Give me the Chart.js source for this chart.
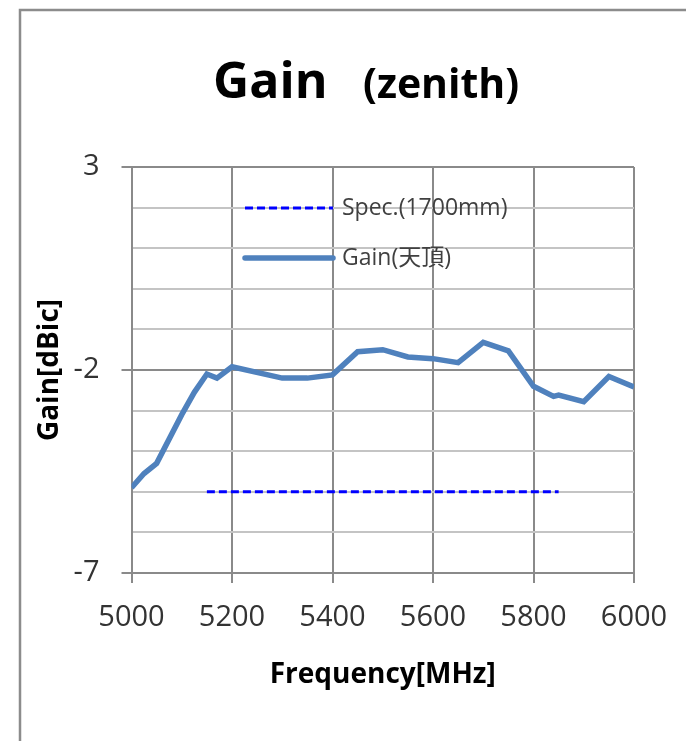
<!DOCTYPE html>
<html>
<head>
<meta charset="utf-8">
<script src="https://cdn.jsdelivr.net/npm/chart.js@4.4.1/dist/chart.umd.min.js"></script>
<style>
  html, body { margin: 0; padding: 0; background: #fff; }
  #wrap { width: 686px; height: 741px; }
</style>
</head>
<body>
<div id="wrap"><canvas id="gainChart" width="686" height="741"></canvas></div>
<script>
// Chart data
const freqs = [5000, 5025, 5050, 5100, 5125, 5150, 5170, 5200, 5300, 5350, 5400, 5450, 5500,
               5550, 5600, 5650, 5700, 5750, 5800, 5840, 5850, 5900, 5950, 6000];
const gains = [-4.9, -4.55, -4.3, -3.1, -2.55, -2.1, -2.2, -1.92, -2.2, -2.2, -2.12, -1.55, -1.5,
               -1.68, -1.72, -1.82, -1.32, -1.53, -2.4, -2.65, -2.62, -2.78, -2.16, -2.42];
const specFreqs = [5150, 5850];
const specGains = [-5, -5];
const seriesLabels = ['Spec.(1700mm)', 'Gain(天頂)'];
const yLabelTicks = [3, -2, -7];

const FONT = "'Open Sans', 'Noto Sans', 'Noto Sans CJK JP', sans-serif";
const GRID_DARK = '#8a8a8a';
const GRID_LIGHT = '#c4c4c4';

function toPoints(xs, ys) {
    return xs.map((x, i) => ({ x: x, y: ys[i] }));
}

// Frame + title drawn on the canvas
const framePlugin = {
    id: 'frame',
    beforeDraw(chart) {
        const ctx = chart.ctx;
        ctx.save();
        ctx.fillStyle = '#fff';
        ctx.fillRect(0, 0, chart.width, chart.height);
        ctx.strokeStyle = '#8c8c8c';
        ctx.lineWidth = 2.5;
        ctx.beginPath();
        ctx.moveTo(chart.width, 10);
        ctx.lineTo(20, 10);
        ctx.lineTo(20, chart.height);
        ctx.stroke();

        ctx.fillStyle = '#000';
        ctx.textBaseline = 'alphabetic';
        ctx.font = "bold 50px " + FONT;
        ctx.fillText('Gain', 213, 98);
        ctx.font = "bold 41px " + FONT;
        ctx.fillText('(zenith)', 363, 98);
        ctx.restore();
    }
};

// Legend drawn inside the plot area
const innerLegend = {
    id: 'innerLegend',
    afterDatasetsDraw(chart) {
        const ctx = chart.ctx;
        const rows = [208, 258];
        ctx.save();
        chart.data.datasets.forEach((ds, i) => {
            const y = rows[i];
            ctx.strokeStyle = ds.borderColor;
            ctx.lineWidth = ds.borderWidth;
            ctx.lineCap = ds.borderDash ? 'butt' : 'round';
            ctx.setLineDash(ds.borderDash || []);
            ctx.beginPath();
            ctx.moveTo(245, y);
            ctx.lineTo(333, y);
            ctx.stroke();
            ctx.setLineDash([]);
            ctx.fillStyle = '#404040';
            ctx.font = "23px " + FONT;
            ctx.textBaseline = 'middle';
            ctx.fillText(ds.label, 342, y);
        });
        ctx.restore();
    }
};

const ctx = document.getElementById('gainChart').getContext('2d');
const chart = new Chart(ctx, {
    type: 'line',
    data: {
        datasets: [{
            label: seriesLabels[0],
            data: toPoints(specFreqs, specGains),
            borderColor: '#0000ff',
            borderWidth: 3,
            borderDash: [8, 4],
            pointRadius: 0,
            fill: false
        }, {
            label: seriesLabels[1],
            data: toPoints(freqs, gains),
            borderColor: '#4f81bd',
            borderWidth: 5.5,
            pointRadius: 0,
            tension: 0,
            fill: false
        }]
    },
    options: {
        responsive: false,
        animation: false,
        events: [],
        layout: {
            padding: { top: 167, left: 20, right: 52, bottom: 36 }
        },
        plugins: {
            legend: { display: false },
            title: { display: false },
            tooltip: { enabled: false }
        },
        scales: {
            x: {
                type: 'linear',
                min: 5000,
                max: 6000,
                afterFit: function (scale) { scale.height = 741 - 573 - 36; },
                ticks: {
                    stepSize: 200,
                    color: '#333',
                    padding: 17,
                    maxRotation: 0,
                    font: { family: FONT, size: 29 },
                    callback: v => String(v)
                },
                grid: {
                    color: GRID_DARK,
                    lineWidth: 2,
                    tickLength: 10,
                    tickColor: GRID_DARK
                },
                border: { color: GRID_DARK, width: 2 },
                title: {
                    display: true,
                    text: 'Frequency[MHz]',
                    color: '#000',
                    padding: 13,
                    font: { family: FONT, size: 28, weight: 'bold' }
                }
            },
            y: {
                min: -7,
                max: 3,
                afterFit: function (scale) { scale.width = 111.5; },
                ticks: {
                    stepSize: 1,
                    color: '#333',
                    padding: 22,
                    font: { family: FONT, size: 29 },
                    callback: function (v) {
                        return yLabelTicks.includes(v) ? String(v) : '';
                    }
                },
                grid: {
                    lineWidth: 2,
                    tickLength: 10,
                    color: c => yLabelTicks.includes(c.tick.value) ? GRID_DARK : GRID_LIGHT,
                    tickColor: c => yLabelTicks.includes(c.tick.value) ? GRID_DARK : 'rgba(0,0,0,0)'
                },
                border: { color: GRID_DARK, width: 2 },
                title: {
                    display: true,
                    text: 'Gain[dBic]',
                    color: '#000',
                    padding: 13,
                    font: { family: FONT, size: 28, weight: 'bold' }
                }
            }
        }
    },
    plugins: [framePlugin, innerLegend]
});
</script>
</body>
</html>
